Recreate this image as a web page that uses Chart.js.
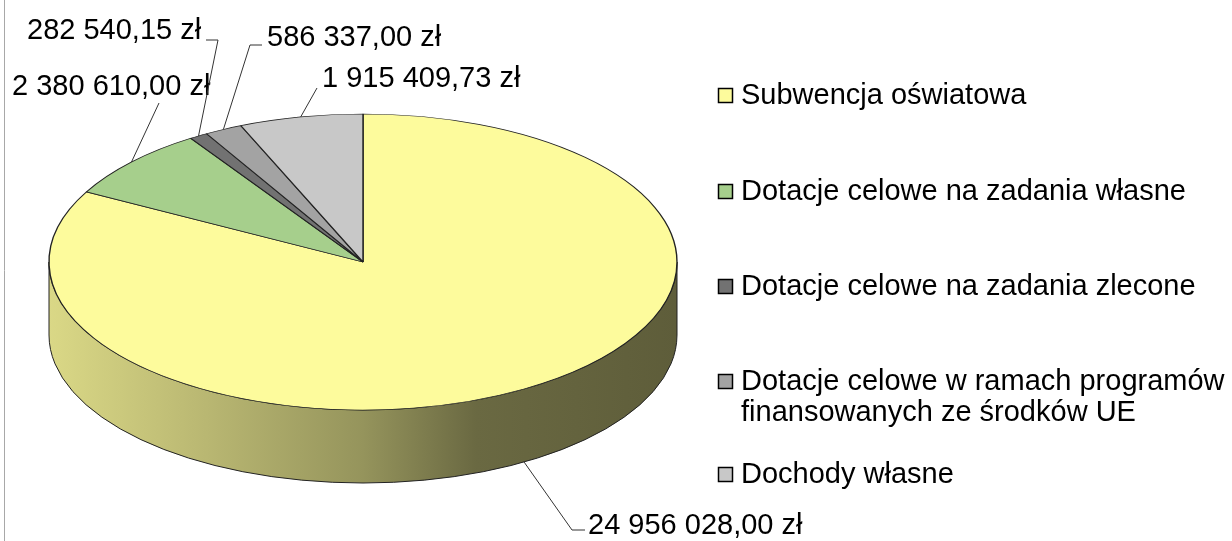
<!DOCTYPE html>
<html>
<head>
<meta charset="utf-8">
<script src="https://cdn.jsdelivr.net/npm/chart.js@4/dist/chart.umd.min.js"></script>
<style>
  body { margin: 0; background: #fff; }
  #wrap { width: 1232px; height: 541px; position: relative; }
</style>
</head>
<body>
<div id="wrap"><canvas id="chart"></canvas></div>
<script>
// Data
const categories = [
    'Subwencja oświatowa',
    'Dotacje celowe na zadania własne',
    'Dotacje celowe na zadania zlecone',
    ['Dotacje celowe w ramach programów', 'finansowanych ze środków UE'],
    'Dochody własne'
];
const amounts = [24956028.00, 2380610.00, 282540.15, 586337.00, 1915409.73];
const sliceColors = ['#fdfb9c', '#a6cf8c', '#727272', '#a3a3a3', '#c8c8c8'];

// Helper: Polish currency format, e.g. 24 956 028,00 zł
function formatPLN(v) {
    const parts = v.toFixed(2).split('.');
    return parts[0].replace(/\B(?=(\d{3})+(?!\d))/g, ' ') + ',' + parts[1] + ' zł';
}

function shade(hex, f) {
    const n = parseInt(hex.slice(1), 16);
    const r = Math.round(((n >> 16) & 255) * f);
    const g = Math.round(((n >> 8) & 255) * f);
    const b = Math.round((n & 255) * f);
    return `rgb(${r},${g},${b})`;
}

// Ellipse the flat pie is mapped onto, plus wall depth
const GEO = { cx: 363, cy: 262, rx: 314, ry: 148, depth: 73 };
const FONT = '29px "Liberation Sans", Arial, sans-serif';

// Label layout: text position (left, middle) and leader elbow points
const labelLayout = [
    { x: 588, y: 526, pts: [[572, 530], [585, 530]] },
    { x: 12, y: 87, pts: [[159, 103]] },
    { x: 27, y: 31, pts: [[218, 40], [206, 40]] },
    { x: 267, y: 38, pts: [[250, 45], [262, 45]] },
    { x: 322, y: 79, pts: [[317, 88]] }
];
const legendRows = [96, 192, 287, 382, 475];

const pie3d = {
    id: 'pie3d',
    beforeDatasetsDraw(chart) {
        const ctx = chart.ctx;
        const arcs = chart.getDatasetMeta(0).data;
        const a0 = arcs[0];
        const { cx, cy, rx, ry, depth } = GEO;

        // side wall, only the front half (angles 0..PI) is visible
        arcs.forEach((arc, i) => {
            const ranges = [[0, Math.PI], [2 * Math.PI, 3 * Math.PI]];
            ranges.forEach(([lo, hi]) => {
                const s = Math.max(arc.startAngle, lo);
                const e = Math.min(arc.endAngle, hi);
                if (e <= s) return;
                const grad = ctx.createLinearGradient(cx - rx, 0, cx + rx, 0);
                const base = sliceColors[i];
                grad.addColorStop(0, shade(base, 0.86));
                grad.addColorStop(0.25, shade(base, 0.73));
                grad.addColorStop(0.5, shade(base, 0.59));
                grad.addColorStop(0.68, shade(base, 0.42));
                grad.addColorStop(1, shade(base, 0.37));
                ctx.beginPath();
                ctx.ellipse(cx, cy, rx, ry, 0, s, e, false);
                ctx.ellipse(cx, cy + depth, rx, ry, 0, e, s, true);
                ctx.closePath();
                ctx.fillStyle = grad;
                ctx.fill();
                ctx.lineWidth = 1;
                ctx.strokeStyle = '#222';
                ctx.stroke();
            });
        });

        // squash the flat pie into the top ellipse
        ctx.save();
        ctx.translate(cx, cy);
        ctx.scale(rx / a0.outerRadius, ry / a0.outerRadius);
        ctx.translate(-a0.x, -a0.y);
    },
    afterDatasetsDraw(chart) {
        const ctx = chart.ctx;
        ctx.restore();
        const arcs = chart.getDatasetMeta(0).data;
        const { cx, cy, rx, ry, depth } = GEO;

        ctx.save();
        // frame line on the left
        ctx.strokeStyle = '#a8a8a8';
        ctx.lineWidth = 1;
        ctx.beginPath();
        ctx.moveTo(4.5, 0);
        ctx.lineTo(4.5, 541);
        ctx.stroke();

        // data labels with leader lines
        ctx.font = FONT;
        ctx.textBaseline = 'middle';
        ctx.fillStyle = '#000';
        arcs.forEach((arc, i) => {
            const mid = (arc.startAngle + arc.endAngle) / 2;
            let ax = cx + rx * Math.cos(mid);
            let ay = cy + ry * Math.sin(mid);
            if (Math.sin(mid) > 0) ay += depth;
            const lay = labelLayout[i];
            ctx.strokeStyle = '#333';
            ctx.lineWidth = 1;
            ctx.beginPath();
            ctx.moveTo(ax, ay);
            lay.pts.forEach(p => ctx.lineTo(p[0], p[1]));
            ctx.stroke();
            ctx.fillText(formatPLN(amounts[i]), lay.x, lay.y);
        });

        // legend
        categories.forEach((cat, i) => {
            const y = legendRows[i];
            ctx.fillStyle = sliceColors[i];
            ctx.fillRect(718.5, y - 7.5, 14, 14);
            ctx.strokeStyle = '#000';
            ctx.lineWidth = 1.5;
            ctx.strokeRect(718.5, y - 7.5, 14, 14);
            ctx.fillStyle = '#000';
            const lines = Array.isArray(cat) ? cat : [cat];
            lines.forEach((ln, k) => ctx.fillText(ln, 741, y + k * 31));
        });
        ctx.restore();
    }
};

new Chart(document.getElementById('chart'), {
    type: 'pie',
    data: {
        labels: categories,
        datasets: [{
            data: amounts,
            backgroundColor: sliceColors,
            borderColor: '#222',
            borderWidth: 1.2,
            clip: false
        }]
    },
    options: {
        responsive: true,
        maintainAspectRatio: false,
        animation: false,
        layout: { padding: { left: 50, right: 554, top: 0, bottom: 0 } },
        plugins: {
            legend: { display: false },
            tooltip: { enabled: false }
        }
    },
    plugins: [pie3d]
});
</script>
</body>
</html>
